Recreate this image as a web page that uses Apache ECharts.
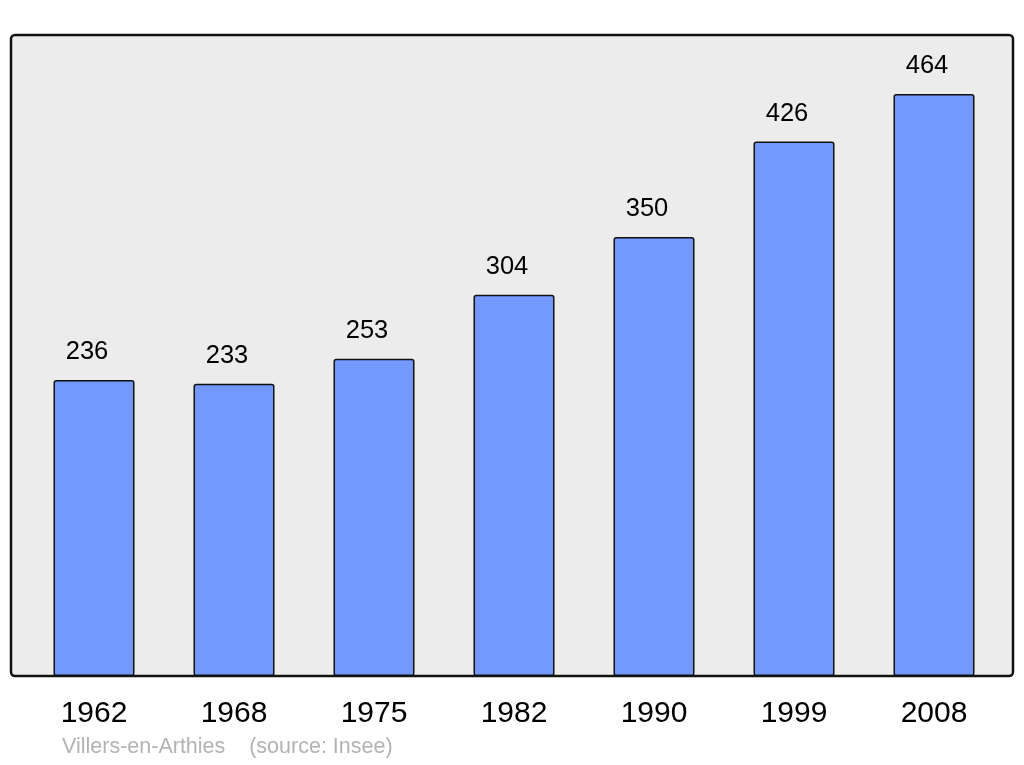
<!DOCTYPE html>
<html><head><meta charset="utf-8">
<script src="https://cdn.jsdelivr.net/npm/echarts@6/dist/echarts.min.js"></script>
<style>html,body{margin:0;padding:0;background:#fff}#c{width:1024px;height:765px}</style>
</head><body><div id="c"></div>
<script>
const years = ['1962','1968','1975','1982','1990','1999','2008'];
const population = [236, 233, 253, 304, 350, 426, 464];
const caption = 'Villers-en-Arthies    (source: Insee)';

const chart = echarts.init(document.getElementById('c'), null, {renderer:'canvas'});
chart.setOption({
  animation: false,
  textStyle: {fontFamily: 'Liberation Sans, Arial, sans-serif'},
  title: {
    text: caption, left: 57, top: 731,
    textStyle: {fontSize: 21.5, fontWeight: 'normal', color: '#b3b3b3', fontFamily: 'Liberation Sans, Arial, sans-serif'}
  },
  graphic: [{
    type: 'rect', z: -10, silent: true,
    shape: {x: 11, y: 35, width: 1002, height: 641, r: 4},
    style: {fill: '#ececec', stroke: '#111', lineWidth: 2.5}
  }],
  grid: {left: 24, right: 20, top: 35, bottom: 89},
  xAxis: {
    type: 'category', data: years,
    axisLine: {show: false}, axisTick: {show: false},
    axisLabel: {fontSize: 30, color: '#000', margin: 23}
  },
  yAxis: {type: 'value', min: 0, max: 511, show: false, splitLine: {show: false}},
  series: [{
    type: 'bar', data: population, barWidth: 81,
    itemStyle: {color: '#7399ff', borderColor: '#111', borderWidth: 1.5, borderRadius: 2},
    label: {show: true, position: 'top', distance: 15, offset: [-7, 0], fontSize: 25.5, color: '#000'}
  }]
});
</script></body></html>
